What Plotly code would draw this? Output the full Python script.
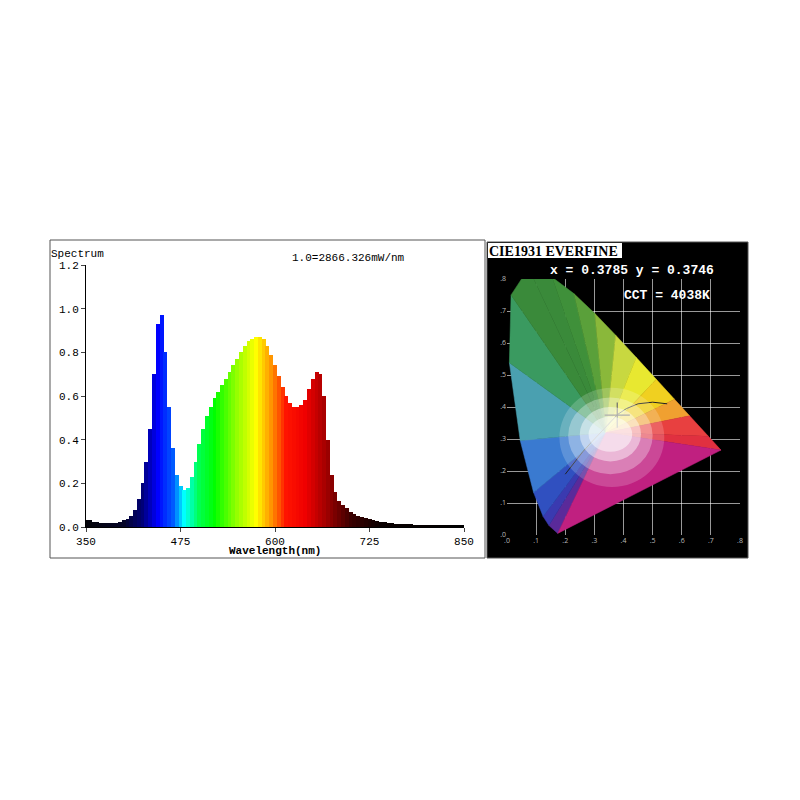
import plotly.graph_objects as go

# ---- Spectrum data (5 nm steps) ----
wavelengths = list(range(350, 855, 5))
intensity = [0.03,0.03,0.025,0.025,0.02,0.02,0.02,0.02,0.02,0.025,
             0.03,0.035,0.05,0.08,0.13,0.2,0.3,0.45,0.7,0.93,
             0.97,0.8,0.55,0.36,0.24,0.19,0.17,0.18,0.23,0.3,
             0.38,0.45,0.51,0.55,0.59,0.62,0.65,0.68,0.71,0.74,
             0.77,0.8,0.83,0.85,0.86,0.87,0.87,0.86,0.83,0.79,
             0.74,0.69,0.64,0.6,0.57,0.55,0.55,0.56,0.58,0.63,
             0.68,0.71,0.70,0.6,0.4,0.24,0.16,0.12,0.1,0.085,
             0.07,0.06,0.05,0.045,0.04,0.035,0.03,0.027,0.024,0.022,
             0.02,0.018,0.016,0.015,0.014,0.013,0.012,0.011,0.01,0.01,
             0.009,0.009,0.008,0.008,0.007,0.007,0.006,0.006,0.006,0.005,0.005]
x_ticks = [350, 475, 600, 725, 850]
y_ticks = [0.0, 0.2, 0.4, 0.6, 0.8, 1.0, 1.2]

# ---- CIE data ----
locus_wl = [380,460,470,480,490,500,510,520,530,540,550,560,570,580,590,600,620,700]
locus_x = [0.1741,0.144,0.1241,0.0913,0.0454,0.0082,0.0139,0.0743,0.1547,0.2296,0.3016,0.3731,0.4441,0.5125,0.5752,0.627,0.6915,0.7347]
locus_y = [0.005,0.0297,0.0578,0.1327,0.295,0.5384,0.7502,0.8338,0.8059,0.7543,0.6923,0.6245,0.5547,0.4866,0.4242,0.3725,0.3083,0.2653]
planck_x = [0.2, 0.23, 0.26, 0.29, 0.32, 0.35, 0.38, 0.41, 0.45, 0.5, 0.55]
planck_y = [0.19, 0.225, 0.26, 0.29, 0.32, 0.35, 0.377, 0.395, 0.41, 0.415, 0.41]
cie_ticks = [0.0, 0.1, 0.2, 0.3, 0.4, 0.5, 0.6, 0.7, 0.8]
cie_labels = ['.0', '.1', '.2', '.3', '.4', '.5', '.6', '.7', '.8']
pt_x, pt_y = 0.3785, 0.3746

anchors = [(350,(5,5,10)),(400,(5,5,40)),(425,(0,0,120)),(445,(0,0,255)),(465,(0,90,255)),
           (480,(0,255,255)),(500,(0,255,80)),(520,(0,255,0)),(550,(150,255,0)),(575,(255,255,0)),
           (595,(255,150,0)),(615,(255,20,0)),(640,(240,0,0)),(665,(170,0,0)),(700,(60,0,0)),(740,(10,0,0)),(850,(0,0,0))]
def wl_color(w):
    for (w0,c0),(w1,c1) in zip(anchors[:-1],anchors[1:]):
        if w0 <= w <= w1:
            t = (w-w0)/(w1-w0)
            return 'rgb(%d,%d,%d)' % tuple(int(a+(b-a)*t) for a,b in zip(c0,c1))
    return 'black'

fig = go.Figure()
fig.add_trace(go.Bar(x=wavelengths, y=intensity, width=5.3,
                     marker=dict(color=[wl_color(w) for w in wavelengths], line=dict(width=0)),
                     xaxis='x', yaxis='y', showlegend=False))

loc_cols = {380:'#5a2a9a',460:'#3a3ab0',470:'#3050c0',480:'#3a7ad0',490:'#4aa0b0',500:'#3a9a60',
            510:'#3a8a3a',520:'#3a8a3a',530:'#3f903a',540:'#5aa03a',550:'#8ab83a',560:'#c8d840',
            570:'#e8e830',580:'#f0d020',590:'#f0a030',600:'#e84040',620:'#e03040',700:'#e03040'}
cx, cy = 0.34, 0.32
poly_x = locus_x + [locus_x[0]]
poly_y = locus_y + [locus_y[0]]
wls = locus_wl + [380]
for i in range(len(poly_x)-1):
    c = loc_cols[wls[i]] if i < len(locus_wl)-1 else '#c02080'
    fig.add_trace(go.Scatter(x=[cx, poly_x[i], poly_x[i+1], cx], y=[cy, poly_y[i], poly_y[i+1], cy],
                             fill='toself', fillcolor=c, mode='lines', line=dict(width=0.5, color=c),
                             xaxis='x2', yaxis='y2', showlegend=False, hoverinfo='skip'))

OFF = 8  # page body margin
P = lambda px: (px - OFF)/800
Q = lambda py: 1 - (py - OFF)/800
mono = 'Liberation Mono'
shapes = [
    dict(type='rect', xref='paper', yref='paper', x0=P(50), x1=P(485), y0=Q(558), y1=Q(240), line=dict(color='#555', width=1), layer='below'),
    dict(type='rect', xref='paper', yref='paper', x0=P(487), x1=P(748), y0=Q(558), y1=Q(242), fillcolor='black', line=dict(color='#555', width=1), layer='below'),
    dict(type='circle', xref='x2', yref='y2', x0=0.18, x1=0.54, y0=0.15, y1=0.46, fillcolor='rgba(255,255,255,0.18)', line=dict(width=0), layer='above'),
    dict(type='circle', xref='x2', yref='y2', x0=0.21, x1=0.50, y0=0.19, y1=0.43, fillcolor='rgba(255,255,255,0.3)', line=dict(width=0), layer='above'),
    dict(type='circle', xref='x2', yref='y2', x0=0.25, x1=0.46, y0=0.23, y1=0.40, fillcolor='rgba(255,255,255,0.45)', line=dict(width=0), layer='above'),
    dict(type='circle', xref='x2', yref='y2', x0=0.28, x1=0.43, y0=0.26, y1=0.37, fillcolor='rgba(255,255,255,0.5)', line=dict(width=0), layer='above'),
    dict(type='rect', xref='paper', yref='paper', x0=P(488), x1=P(622), y0=Q(258), y1=Q(243), fillcolor='white', line=dict(width=0)),
]
fig.add_trace(go.Scatter(x=planck_x, y=planck_y, mode='lines', line=dict(color='#222', width=1),
                         xaxis='x2', yaxis='y2', showlegend=False))
fig.add_trace(go.Scatter(x=[pt_x], y=[pt_y], mode='markers',
                         marker=dict(symbol='cross-thin', size=18, line=dict(color='black', width=1.2)),
                         xaxis='x2', yaxis='y2', showlegend=False))

annotations = [
    dict(text='Spectrum', x=P(49), y=Q(246), xref='paper', yref='paper', xanchor='left', showarrow=False, font=dict(family=mono, size=11, color='black')),
    dict(text='1.0=2866.326mW/nm', x=P(348), y=Q(250), xref='paper', yref='paper', showarrow=False, font=dict(family=mono, size=11, color='black')),
    dict(text='<b>Wavelength(nm)</b>', x=P(275), y=Q(559), xref='paper', yref='paper', showarrow=False, font=dict(family=mono, size=11, color='black')),
    dict(text='<b>CIE1931 EVERFINE</b>', x=P(487), y=Q(242), xref='paper', yref='paper', xanchor='left', showarrow=False, font=dict(family='Liberation Serif', size=14, color='black')),
    dict(text='<b>x = 0.3785 y = 0.3746</b>', x=P(548), y=Q(261), xref='paper', yref='paper', xanchor='left', showarrow=False, font=dict(family=mono, size=13, color='white')),
    dict(text='<b>CCT = 4038K</b>', x=P(622), y=Q(295), xref='paper', yref='paper', xanchor='left', showarrow=False, font=dict(family=mono, size=13, color='white')),
]
fig.update_layout(
    width=800, height=800, margin=dict(l=0, r=0, t=0, b=0, autoexpand=False),
    paper_bgcolor='white', plot_bgcolor='rgba(0,0,0,0)', bargap=0,
    xaxis=dict(domain=[P(86), P(464)], range=[350, 850], tickvals=x_ticks, ticks='outside', ticklen=4,
               showline=True, linecolor='black', showgrid=False, zeroline=False,
               tickfont=dict(family=mono, size=11, color='black'), anchor='y'),
    yaxis=dict(domain=[Q(527), Q(265)], range=[0, 1.2], tickvals=y_ticks, tickformat='.1f', ticks='outside', ticklen=4,
               showline=True, linecolor='black', showgrid=False, zeroline=False,
               tickfont=dict(family=mono, size=11, color='black'), anchor='x'),
    xaxis2=dict(domain=[P(507), P(740)], range=[0, 0.8], tickvals=cie_ticks, ticktext=cie_labels, showgrid=True,
                gridcolor='rgba(255,255,255,0.6)', gridwidth=0.6, zeroline=False, showline=False,
                tickfont=dict(size=7, color='#bbb'), anchor='y2'),
    yaxis2=dict(domain=[Q(535), Q(279)], range=[0, 0.8], tickvals=cie_ticks, ticktext=cie_labels, showgrid=True,
                gridcolor='rgba(255,255,255,0.6)', gridwidth=0.6, zeroline=False, showline=False,
                tickfont=dict(size=7, color='#bbb'), anchor='x2'),
    shapes=shapes, annotations=annotations,
)
fig.write_html('out.html')
